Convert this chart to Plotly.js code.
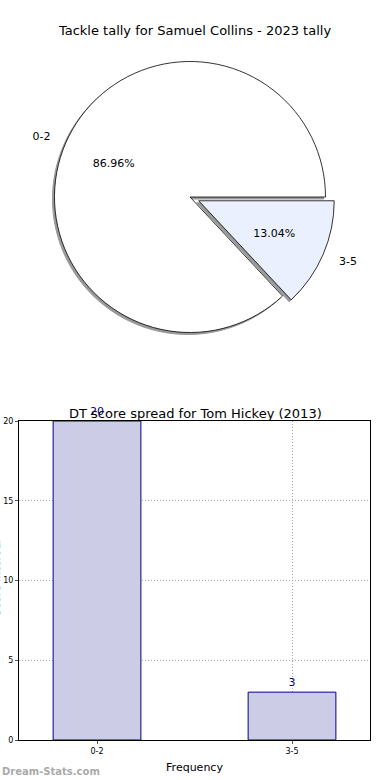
<!DOCTYPE html>
<html>
<head>
<meta charset="utf-8">
<script src="https://cdn.plot.ly/plotly-3.0.1.min.js"></script>
<style>html,body{margin:0;padding:0;background:#fff;}#chart{width:390px;height:780px;}</style>
</head>
<body>
<div id="chart"></div>
<script>
// Data
const pieTitle = "Tackle tally for Samuel Collins - 2023 tally";
const pieLabels = ["0-2", "3-5"];
const pieValues = [20, 3];
const pieColors = ["#ffffff", "#eaf0fe"];
const piePull = [0, 0.07];

const barTitle = "DT score spread for Tom Hickey (2013)";
const barCategories = ["0-2", "3-5"];
const barValues = [20, 3];
const yTicks = [0, 5, 10, 15, 20];
const yTitle = "Score Interval";
const xTitle = "Frequency";

const FONT = "DejaVu Sans, Liberation Sans, sans-serif";

// first slice ends at the rotation angle when counterclockwise; start it at 3 o'clock
const pieTotal = pieValues.reduce((a, b) => a + b, 0);
const pieRotation = 90 + 360 * (pieTotal - pieValues[0]) / pieTotal;

const cx = 190, cy = 197;
function dom(half, dx, dy) {
  dx = dx || 0; dy = dy || 0;
  return {x: [(cx + dx - half) / 390, (cx + dx + half) / 390],
          y: [1 - (cy + dy + half) / 780, 1 - (cy + dy - half) / 780]};
}
const HALF = 145;

const common = {
  type: "pie", labels: pieLabels, values: pieValues, sort: false,
  direction: "counterclockwise", rotation: pieRotation, pull: piePull,
  showlegend: false, hoverinfo: "skip"
};
const clear = {colors: ["rgba(0,0,0,0)", "rgba(0,0,0,0)"], line: {width: 0}};

const traces = [
  // shadow
  Object.assign({}, common, {
    marker: {colors: ["#999999", "#999999"], line: {color: "#999999", width: 1}},
    textinfo: "none", domain: dom(HALF, -2, 2)
  }),
  // slices
  Object.assign({}, common, {
    marker: {colors: pieColors, line: {color: "#000000", width: 0.8}},
    textinfo: "none", domain: dom(HALF)
  }),
  // percent of the large slice
  Object.assign({}, common, {
    marker: clear, textinfo: "percent",
    texttemplate: ["%{percent:.2%}", ""], textposition: "inside",
    insidetextorientation: "horizontal",
    insidetextfont: {family: FONT, size: 11, color: "#000"},
    domain: dom(178)
  }),
  // percent of the small slice
  Object.assign({}, common, {
    marker: clear, textinfo: "percent",
    texttemplate: ["", "%{percent:.2%}"], textposition: "inside",
    insidetextorientation: "horizontal",
    insidetextfont: {family: FONT, size: 11, color: "#000"},
    domain: dom(125)
  }),
  // outside labels
  Object.assign({}, common, {
    marker: clear, textinfo: "label", textposition: "outside",
    outsidetextfont: {family: FONT, size: 11, color: "#000"},
    domain: dom(159), automargin: false
  }),
  {
    type: "bar", x: barCategories, y: barValues, xaxis: "x", yaxis: "y",
    width: 0.45,
    marker: {color: "#cccce6", line: {color: "#00008b", width: 1}},
    text: barValues.map(String), textposition: "outside", cliponaxis: false,
    textfont: {family: FONT, size: 11, color: "#00008b"},
    showlegend: false
  }
];

const layout = {
  width: 390, height: 780,
  margin: {l: 0, r: 0, t: 0, b: 0},
  paper_bgcolor: "#fff", plot_bgcolor: "#fff",
  font: {family: FONT, size: 11, color: "#000"},
  title: {text: pieTitle, font: {family: FONT, size: 13, color: "#000"}, x: 0.5, xanchor: "center", y: 1 - 30/780, yanchor: "middle"},
  xaxis: {
    domain: [19/390, 370/390], anchor: "y",
    range: [-0.4, 1.4], type: "category",
    showgrid: true, gridcolor: "#aaaaaa", griddash: "1px,2px", gridwidth: 1,
    showline: true, linecolor: "#000", linewidth: 1, mirror: true,
    ticks: "outside", ticklen: 3, tickcolor: "#555",
    tickfont: {family: FONT, size: 8, color: "#000"},
    title: {text: xTitle, font: {family: FONT, size: 11, color: "#000"}, standoff: 8},
    zeroline: false, fixedrange: true
  },
  yaxis: {
    domain: [1 - 740/780, 1 - 421/780], anchor: "x",
    range: [0, 20], tickvals: yTicks,
    showgrid: true, gridcolor: "#aaaaaa", griddash: "1px,2px", gridwidth: 1,
    showline: true, linecolor: "#000", linewidth: 1, mirror: true,
    ticks: "outside", ticklen: 3, tickcolor: "#555",
    tickfont: {family: FONT, size: 8, color: "#000"},
    zeroline: false, fixedrange: true
  },
  annotations: [
    {text: barTitle, xref: "paper", yref: "paper", x: 195/390, y: 1 - 413/780, xanchor: "center", yanchor: "middle", showarrow: false, font: {family: FONT, size: 13, color: "#000"}},
    {text: yTitle, xref: "paper", yref: "paper", x: -4/390, y: 1 - 578/780, xanchor: "center", yanchor: "middle", textangle: -90, showarrow: false, font: {family: FONT, size: 11, color: "#000"}},
    {text: "<b>Dream-Stats.com</b>", xref: "paper", yref: "paper", x: 0, y: 1 - 771/780, xanchor: "left", yanchor: "middle", showarrow: false, font: {family: FONT, size: 10, color: "#aaaaaa"}}
  ]
};

Plotly.newPlot("chart", traces, layout, {staticPlot: true, displayModeBar: false});
</script>
</body>
</html>
